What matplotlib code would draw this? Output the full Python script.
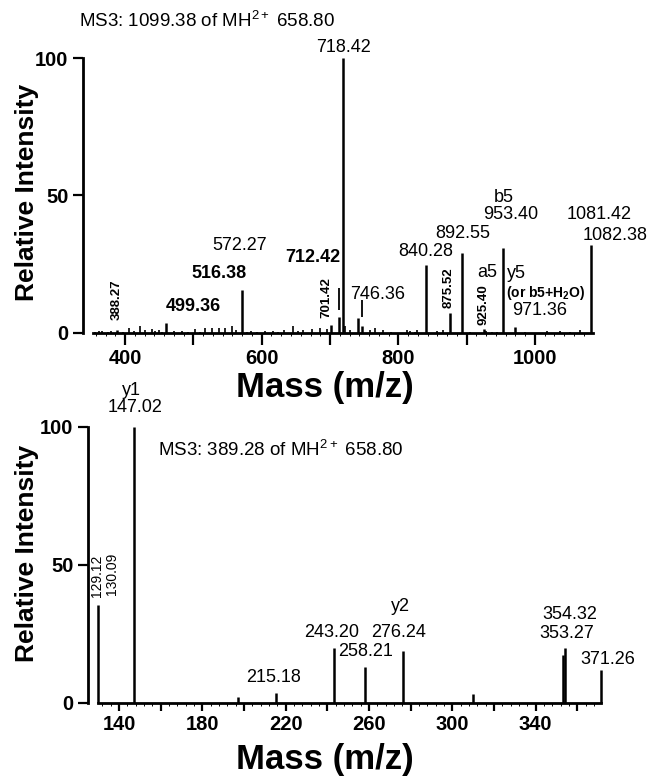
import matplotlib
matplotlib.use("Agg")
import matplotlib.pyplot as plt
from matplotlib.ticker import FixedLocator, FuncFormatter, MultipleLocator

plt.rcParams['font.family'] = ['Liberation Sans', 'DejaVu Sans']
plt.rcParams['mathtext.fontset'] = 'custom'
plt.rcParams['mathtext.rm'] = 'Liberation Sans'
plt.rcParams['mathtext.bf'] = 'Liberation Sans:bold'
plt.rcParams['mathtext.it'] = 'Liberation Sans:italic'

# MS3 of 1099.38 - main labelled peaks
top_mz = [388.27, 460.0, 571.0, 702.0, 712.42, 718.42, 740.5, 747.0, 840.28,
          875.52, 892.55, 925.40, 953.40, 971.36, 1081.42]
top_int = [1.0, 3.8, 15.7, 3.0, 5.9, 100.0, 5.3, 2.5, 24.7,
           7.2, 29.0, 1.5, 30.8, 2.2, 32.0]
# small background peaks of the same spectrum
noise_mz = [356, 362, 366, 375, 380, 397, 405, 413, 422, 429, 439, 444, 449, 454,
            471, 483, 492, 502, 510, 517, 527, 537, 546, 556, 563, 578, 585, 593,
            605, 617, 624, 632, 646, 653, 661, 673, 685, 695, 722, 729, 758, 766,
            778, 790, 812, 817, 824, 827, 856, 866, 905, 929, 937, 945, 985, 1017,
            1037, 1052, 1066]
noise_int = [0.5, 0.6, 0.7, 0.4, 0.6, 0.5, 1.8, 0.6, 2.4, 1.2, 1.5, 0.8, 1.0, 0.5,
             0.6, 0.7, 0.4, 1.4, 0.5, 1.8, 1.8, 1.8, 1.8, 2.4, 1.2, 0.5, 0.7, 0.4,
             0.6, 0.6, 0.5, 1.0, 2.4, 0.6, 1.2, 1.5, 1.8, 1.5, 2.4, 1.2, 1.2, 1.8,
             1.2, 0.5, 1.0, 0.6, 0.5, 1.2, 0.6, 1.0, 0.4, 0.6, 0.5, 0.4, 0.5, 0.6,
             0.6, 0.4, 1.0]

# MS3 of 389.28
bot_mz = [130.09, 147.02, 197.0, 215.18, 243.20, 258.21, 276.24, 310.0,
          353.27, 354.32, 371.26]
bot_int = [35.5, 100.0, 2.0, 3.7, 19.8, 13.2, 19.0, 3.3, 17.4, 20.0, 12.0]

top_ticks = [400, 500, 600, 700, 800, 900, 1000]
bot_ticks = [140, 160, 180, 200, 220, 240, 260, 280, 300, 320, 340, 360]

W, H = 654, 778
fig = plt.figure(figsize=(W / 100, H / 100), dpi=100)


def px_axes(x0, x1, ytop, ybot):
    return fig.add_axes([x0 / W, 1 - ybot / H, (x1 - x0) / W, (ybot - ytop) / H])


def style(ax, major_len, offset_px):
    for s in ['top', 'right']:
        ax.spines[s].set_visible(False)
    for s in ['left', 'bottom']:
        ax.spines[s].set_linewidth(2.0)
    ax.spines['left'].set_position(('outward', offset_px * 0.72))
    ax.set_ylim(0, 100)
    ax.set_yticks([0, 50, 100])
    ax.tick_params(axis='x', which='major', length=major_len, width=1.6,
                   labelsize=14.5, pad=3)
    ax.tick_params(axis='x', which='minor', length=2.2, width=0.7)
    ax.tick_params(axis='y', which='major', length=7.5, width=1.6,
                   labelsize=14.5, pad=3)
    for lab in ax.get_xticklabels() + ax.get_yticklabels():
        lab.set_fontweight('bold')


title_fmt = "MS3: {} of MH$^\\mathregular{{2+}}$ 658.80"

# ---------- top spectrum ----------
ax1 = px_axes(93, 593, 58, 333)
ax1.vlines(noise_mz, 0, noise_int, color='black', lw=1.2, clip_on=False)
ax1.vlines(top_mz, 0, top_int, color='black', lw=1.8, clip_on=False)
ax1.set_xlim(353, 1085)
ax1.xaxis.set_major_locator(FixedLocator(top_ticks))
ax1.xaxis.set_major_formatter(FuncFormatter(lambda v, p: f"{v:.0f}" if round(v) % 200 == 0 else ""))
ax1.xaxis.set_minor_locator(MultipleLocator(100 / 7))
style(ax1, 8.6, 10)

# leader marks
ax1.vlines([713.5], 8.4, 16.4, color='black', lw=1.3)
ax1.vlines([747.0], 5.8, 12.0, color='black', lw=1.3)

normal = dict(ha='center', va='center', fontsize=13)
bold = dict(ha='center', va='center', fontsize=13, fontweight='bold')
rot = dict(ha='center', va='bottom', rotation=90, fontsize=9.5, fontweight='bold')

ax1.text(720, 104, "718.42", **normal)
ax1.text(568, 32, "572.27", **normal)
ax1.text(537.6, 21.5, "516.38", **bold)
ax1.text(499.5, 9.5, "499.36", **bold)
ax1.text(675, 27.3, "712.42", **bold)
ax1.text(769, 14, "746.36", **normal)
ax1.text(840.6, 29.5, "840.28", **normal)
ax1.text(894.7, 36, "892.55", **normal)
ax1.text(955, 49.3, "b5", **normal)
ax1.text(965, 43, "953.40", **normal)
ax1.text(930, 22, "a5", **normal)
ax1.text(973.6, 21.8, "y5", **normal)
ax1.text(1016, 14.4, "(or b5+H$_\\mathregular{2}$O)", ha='center', va='center',
         fontsize=10, fontweight='bold')
ax1.text(1007, 8.2, "971.36", **normal)
ax1.text(1094, 43, "1081.42", **normal)
ax1.text(1118, 35.3, "1082.38", **normal)
ax1.text(388, 4.8, "388.27", **rot)
ax1.text(694, 5.5, "701.42", **rot)
ax1.text(874, 9.1, "875.52", **rot)
ax1.text(925.4, 2.9, "925.40", **rot)

fig.text(79 / W, 1 - 21 / H, title_fmt.format("1099.38"), ha='left', va='center', fontsize=13.5)
fig.text(27 / W, 1 - 192 / H, "Relative Intensity", rotation=90, ha='center', va='center',
         fontsize=19, fontweight='bold')
fig.text(325 / W, 1 - 387 / H, "Mass (m/z)", ha='center', va='center', fontsize=25, fontweight='bold')

# ---------- bottom spectrum ----------
ax2 = px_axes(97.5, 601, 427, 703)
ax2.vlines(bot_mz, 0, bot_int, color='black', lw=1.8, clip_on=False)
ax2.set_xlim(129.7, 371.4)
ax2.xaxis.set_major_locator(FixedLocator(bot_ticks))
ax2.xaxis.set_major_formatter(FuncFormatter(lambda v, p: f"{v:.0f}" if round(v - 140) % 40 == 0 else ""))
ax2.xaxis.set_minor_locator(MultipleLocator(4))
style(ax2, 5.8, 9.5)

rot2 = dict(ha='center', va='bottom', rotation=90, fontsize=10)
ax2.text(145.8, 113.4, "y1", **normal)
ax2.text(147.7, 107, "147.02", **normal)
ax2.text(158.7, 91.7, title_fmt.format("389.28"), ha='left', va='center', fontsize=13.5)
ax2.text(129.3, 38.4, "129.12", **rot2)
ax2.text(136.6, 39.0, "130.09", **rot2)
ax2.text(214.4, 9.4, "215.18", **normal)
ax2.text(242.2, 25.7, "243.20", **normal)
ax2.text(274.4, 25.7, "276.24", **normal)
ax2.text(275, 34.8, "y2", **normal)
ax2.text(258.6, 18.5, "258.21", **normal)
ax2.text(356.5, 31.9, "354.32", **normal)
ax2.text(355, 25, "353.27", **normal)
ax2.text(374.8, 15.6, "371.26", **normal)

fig.text(27 / W, 1 - 553 / H, "Relative Intensity", rotation=90, ha='center', va='center',
         fontsize=19, fontweight='bold')
fig.text(325 / W, 1 - 760 / H, "Mass (m/z)", ha='center', va='center', fontsize=25, fontweight='bold')

fig.savefig("out.png", dpi=100)
